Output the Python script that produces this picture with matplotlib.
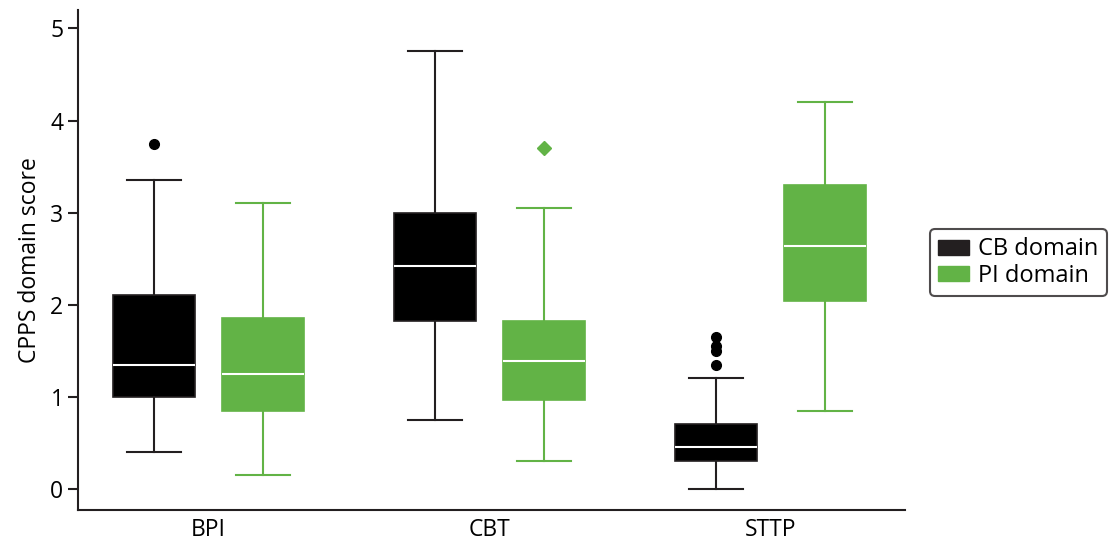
import matplotlib.pyplot as plt
from matplotlib.patches import Patch

plt.rcParams['font.family'] = ['Open Sans', 'DejaVu Sans']

groups = ['BPI', 'CBT', 'STTP']
series = ['CB domain', 'PI domain']

# box stats, one value per group
cb_whislo = [0.40, 0.75, 0.00]
cb_q1 = [1.00, 1.82, 0.30]
cb_med = [1.35, 2.42, 0.45]
cb_q3 = [2.10, 3.00, 0.70]
cb_whishi = [3.35, 4.75, 1.20]
cb_fliers = [[3.75], [], [1.35, 1.50, 1.55, 1.65]]

pi_whislo = [0.15, 0.30, 0.85]
pi_q1 = [0.85, 0.97, 2.04]
pi_med = [1.25, 1.39, 2.64]
pi_q3 = [1.85, 1.82, 3.30]
pi_whishi = [3.10, 3.05, 4.20]
pi_fliers = [[], [3.70], []]

black = '#000000'
edge_black = '#231f20'
green = '#62b346'


def make_stats(whislo, q1, med, q3, whishi, fliers):
    return [dict(whislo=a, q1=b, med=c, q3=d, whishi=e, fliers=f)
            for a, b, c, d, e, f in zip(whislo, q1, med, q3, whishi, fliers)]


fig = plt.figure(figsize=(11.1, 5.42), dpi=100)
ax = fig.add_axes([0.0703, 0.059, 0.745, 0.9225])

offset = 0.194
width = 0.29
pos = list(range(len(groups)))

ax.bxp(make_stats(cb_whislo, cb_q1, cb_med, cb_q3, cb_whishi, cb_fliers),
       positions=[p - offset for p in pos], widths=width, capwidths=0.19,
       patch_artist=True,
       boxprops=dict(facecolor=black, edgecolor=edge_black, linewidth=1.2),
       medianprops=dict(color='white', linewidth=1.5),
       whiskerprops=dict(color=edge_black, linewidth=1.5),
       capprops=dict(color=edge_black, linewidth=1.5),
       flierprops=dict(marker='o', markerfacecolor=black, markeredgecolor=black,
                       markersize=7))

ax.bxp(make_stats(pi_whislo, pi_q1, pi_med, pi_q3, pi_whishi, pi_fliers),
       positions=[p + offset for p in pos], widths=width, capwidths=0.19,
       patch_artist=True,
       boxprops=dict(facecolor=green, edgecolor=green, linewidth=1.2),
       medianprops=dict(color='white', linewidth=1.5),
       whiskerprops=dict(color=green, linewidth=1.5),
       capprops=dict(color=green, linewidth=1.5),
       flierprops=dict(marker='D', markerfacecolor=green, markeredgecolor=green,
                       markersize=7))

ax.set_xlim(-0.464, 2.479)
ax.set_ylim(-0.23, 5.2)
ax.set_xticks(pos)
ax.set_xticklabels(groups)
ax.set_yticks([0, 1, 2, 3, 4, 5])
ax.tick_params(axis='x', length=0, labelsize=16.5, pad=6)
ax.tick_params(axis='y', length=7, width=1.5, labelsize=16.5, color=edge_black)
ax.set_ylabel('CPPS domain score', fontsize=16.5, labelpad=6)

for s in ['top', 'right']:
    ax.spines[s].set_visible(False)
for s in ['left', 'bottom']:
    ax.spines[s].set_linewidth(1.5)
    ax.spines[s].set_color(edge_black)

handles = [Patch(facecolor=edge_black, edgecolor=edge_black),
           Patch(facecolor=green, edgecolor=green)]
leg = ax.legend(handles, series, loc='center left', bbox_to_anchor=(1.03, 0.495),
                fontsize=17, frameon=True, fancybox=True, handlelength=1.3,
                handleheight=0.6, handletextpad=0.4, borderpad=0.35,
                labelspacing=0.1, borderaxespad=0)
leg.get_frame().set_edgecolor(edge_black)
leg.get_frame().set_linewidth(1.5)

fig.savefig('out.png', dpi=100)
